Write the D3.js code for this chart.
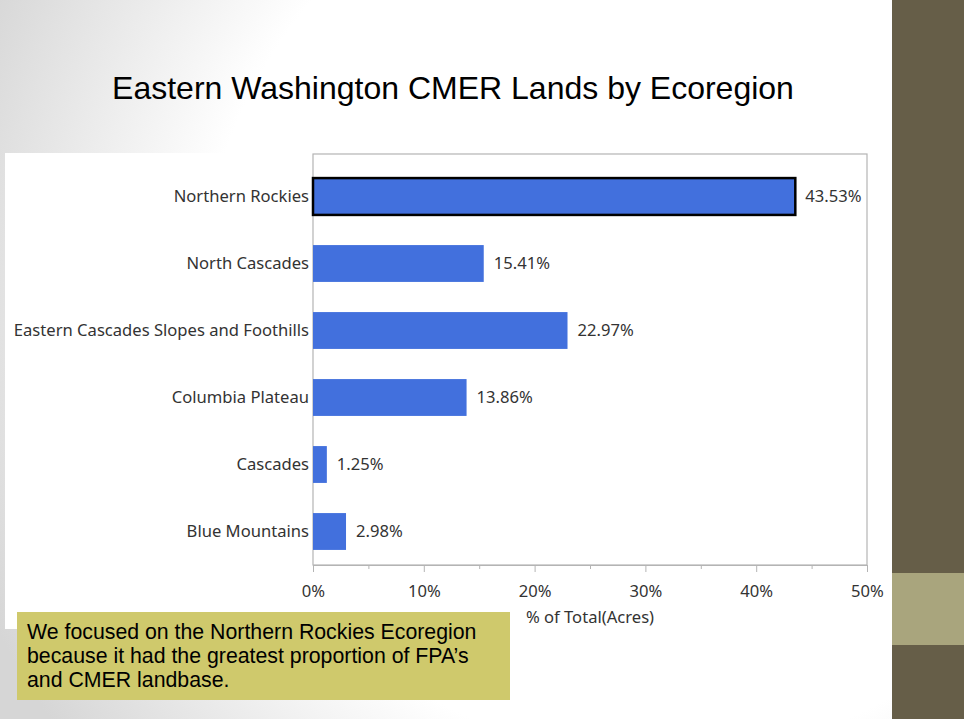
<!DOCTYPE html>
<html>
<head>
<meta charset="utf-8">
<script src="https://cdn.jsdelivr.net/npm/d3@7"></script>
<style>
  html, body { margin: 0; padding: 0; }
  body { width: 964px; height: 719px; overflow: hidden; }
</style>
</head>
<body>
<div id="chart"></div>
<script>
const categories = ["Northern Rockies", "North Cascades", "Eastern Cascades Slopes and Foothills",
                    "Columbia Plateau", "Cascades", "Blue Mountains"];
const percents = [43.53, 15.41, 22.97, 13.86, 1.25, 2.98];
const xTicks = [0, 10, 20, 30, 40, 50];
const noteLines = ["We focused on the Northern Rockies Ecoregion",
                   "because it had the greatest proportion of FPA\u2019s",
                   "and CMER landbase."];

const W = 964, H = 719;
const labelFont = "Noto Sans, sans-serif";
const labelSize = "16.6px";

const svg = d3.select("#chart").append("svg")
    .attr("width", W).attr("height", H);

// slide background
let defs = svg.append("defs");
let grad = defs.append("radialGradient").attr("id", "bg")
    .attr("gradientUnits", "userSpaceOnUse")
    .attr("cx", 660).attr("cy", 300).attr("r", 740);
grad.append("stop").attr("offset", "0.62").attr("stop-color", "#ffffff");
grad.append("stop").attr("offset", "1").attr("stop-color", "#d6d6d6");

svg.append("rect").attr("width", W).attr("height", H).attr("fill", "url(#bg)");
svg.append("rect").attr("x", 892).attr("y", 0).attr("width", 72).attr("height", H).attr("fill", "#665e48");
svg.append("rect").attr("x", 892).attr("y", 573).attr("width", 72).attr("height", 72).attr("fill", "#a9a57d");

svg.append("text")
    .attr("x", 453).attr("y", 99)
    .attr("text-anchor", "middle")
    .style("font-family", "Liberation Sans, Arial, sans-serif")
    .style("font-size", "32px")
    .attr("fill", "#000")
    .text("Eastern Washington CMER Lands by Ecoregion");

// chart picture
svg.append("rect").attr("x", 5).attr("y", 153).attr("width", 880).attr("height", 476).attr("fill", "#fff");

const plot = {left: 313, right: 867, top: 154, bottom: 565};

let x = d3.scaleLinear().domain([0, 50]).range([plot.left, plot.right]);
let y = d3.scaleBand().domain(categories).range([163, 565]).paddingInner(0.45).paddingOuter(0.225);

svg.append("rect")
    .attr("x", plot.left).attr("y", plot.top)
    .attr("width", plot.right - plot.left).attr("height", plot.bottom - plot.top)
    .attr("fill", "none").attr("stroke", "#b4b4b4").attr("stroke-width", 1.2);

let xAxis = svg.append("g")
    .attr("transform", "translate(0," + plot.bottom + ")")
    .call(d3.axisBottom(x).tickValues(d3.range(0, 51, 5)).tickSize(6).tickPadding(14)
        .tickFormat(function(d){ return xTicks.indexOf(d) >= 0 ? d + "%" : ""; }));
xAxis.select(".domain").attr("stroke", "#b4b4b4");
xAxis.selectAll(".tick line").attr("stroke", "#b4b4b4")
    .attr("y2", function(d){ return xTicks.indexOf(d) >= 0 ? 7 : 4; });
xAxis.selectAll("text")
    .style("font-family", labelFont).style("font-size", labelSize).attr("fill", "#333");

svg.append("text")
    .attr("x", 590).attr("y", 623)
    .attr("text-anchor", "middle")
    .style("font-family", labelFont).style("font-size", labelSize).attr("fill", "#333")
    .text("% of Total(Acres)");

let rows = svg.selectAll(".row")
    .data(categories)
    .enter()
    .append("g")
    .attr("class", "row");

rows.append("rect")
    .attr("x", x(0))
    .attr("y", function(d){ return y(d); })
    .attr("width", function(d, i){ return x(percents[i]) - x(0); })
    .attr("height", y.bandwidth())
    .attr("fill", "#4270dd")
    .attr("stroke", function(d, i){ return i == 0 ? "#000" : "none"; })
    .attr("stroke-width", 2.5);

rows.append("text")
    .attr("x", plot.left - 4)
    .attr("y", function(d){ return y(d) + y.bandwidth() / 2; })
    .attr("dy", "0.35em")
    .attr("text-anchor", "end")
    .style("font-family", labelFont).style("font-size", labelSize).attr("fill", "#333")
    .text(function(d){ return d; });

rows.append("text")
    .attr("x", function(d, i){ return x(percents[i]) + 10; })
    .attr("y", function(d){ return y(d) + y.bandwidth() / 2; })
    .attr("dy", "0.35em")
    .style("font-family", labelFont).style("font-size", labelSize).attr("fill", "#333")
    .text(function(d, i){ return percents[i].toFixed(2) + "%"; });

// note box
svg.append("rect").attr("x", 17).attr("y", 612).attr("width", 493).attr("height", 88).attr("fill", "#cfc96c");
svg.append("g").selectAll("text")
    .data(noteLines)
    .enter()
    .append("text")
    .attr("x", 27)
    .attr("y", function(d, i){ return 639 + i * 24; })
    .style("font-family", "Liberation Sans, Arial, sans-serif")
    .style("font-size", "21.3px")
    .attr("fill", "#000")
    .text(function(d){ return d; });
</script>
</body>
</html>
